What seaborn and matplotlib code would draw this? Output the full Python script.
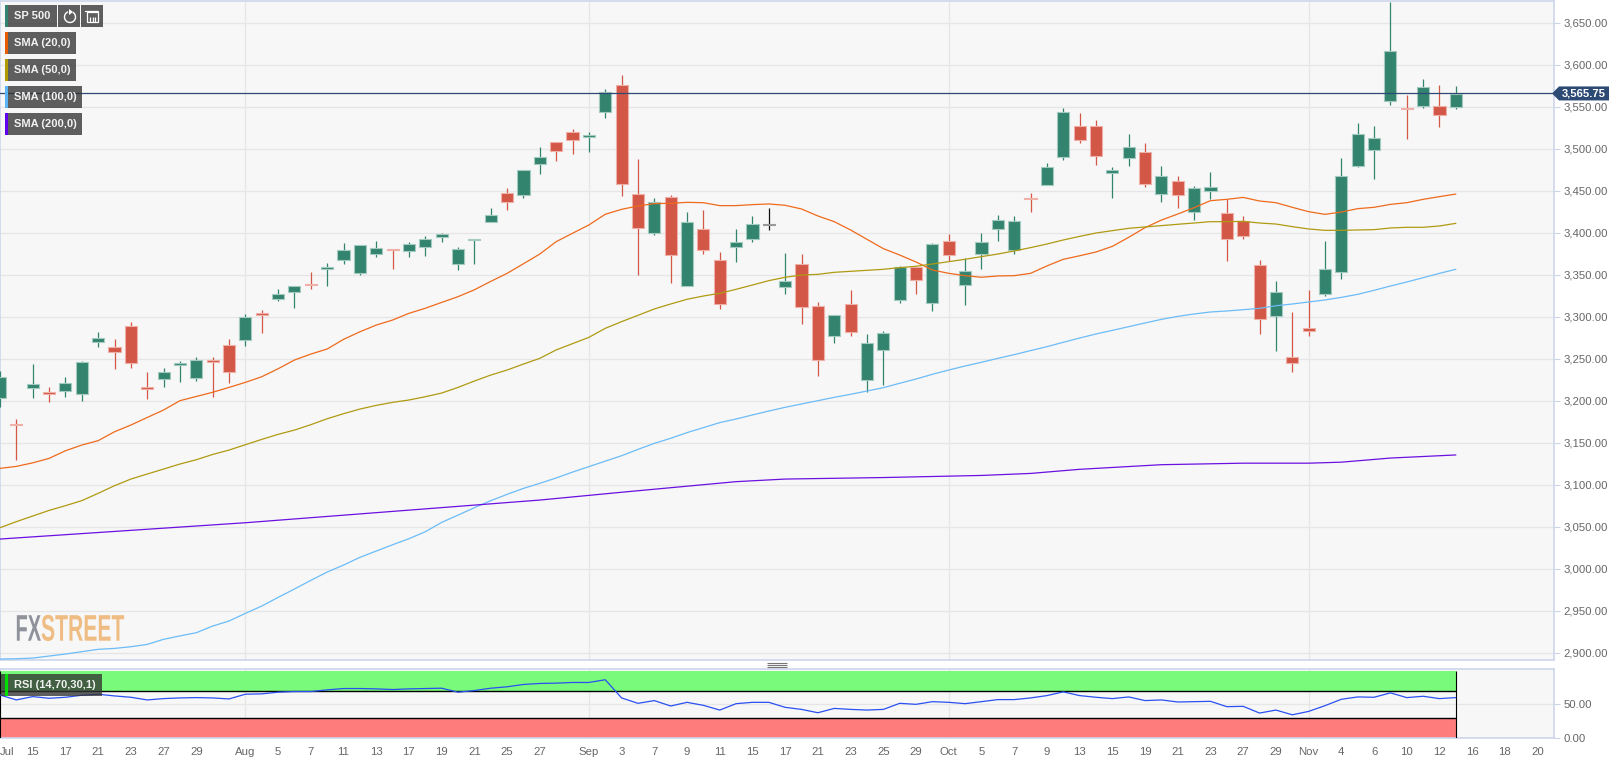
import numpy as np
import pandas as pd
import matplotlib
matplotlib.use("Agg")
import matplotlib.pyplot as plt
import seaborn as sns
from matplotlib.patches import Rectangle, Polygon, Arc
from matplotlib.patheffects import AbstractPathEffect
from matplotlib.transforms import Affine2D

WIDTH, HEIGHT = 1620, 770
LAST_PRICE = 3565.75
BLACK_CANDLE = 47

open_ = [3202.8, 3172.6, 3215.0, 3210.7, 3211.1, 3207.5, 3270.2, 3263.9, 3288.9, 3216.2,
         3225.4, 3242.4, 3227.4, 3248.8, 3266.2, 3272.2, 3304.4, 3321.4, 3329.8, 3338.9,
         3357.1, 3367.5, 3352.0, 3375.0, 3380.6, 3377.8, 3382.5, 3394.8, 3362.7, 3391.7,
         3412.3, 3447.6, 3444.4, 3481.4, 3508.0, 3520.3, 3513.5, 3544.1, 3575.8, 3445.7,
         3400.0, 3442.1, 3337.0, 3404.0, 3367.1, 3383.0, 3392.1, 3409.6, 3335.8, 3362.7,
         3313.1, 3276.6, 3315.1, 3224.3, 3260.0, 3320.3, 3359.2, 3316.7, 3389.7, 3337.7,
         3375.0, 3404.8, 3379.4, 3441.7, 3456.8, 3489.7, 3527.4, 3526.6, 3471.4, 3489.3,
         3495.7, 3445.7, 3461.1, 3424.6, 3449.6, 3423.8, 3414.3, 3361.9, 3301.2, 3251.6,
         3286.1, 3327.4, 3353.6, 3479.8, 3498.0, 3557.2, 3548.4, 3550.4, 3550.4, 3550.0]
high = [3235.7, 3178.5, 3243.2, 3215.8, 3228.5, 3246.8, 3282.1, 3273.0, 3293.3, 3234.5,
        3238.5, 3247.6, 3252.4, 3252.4, 3273.0, 3302.8, 3307.9, 3332.5, 3336.1, 3353.6,
        3363.5, 3387.3, 3384.9, 3389.7, 3380.6, 3388.5, 3395.6, 3400.0, 3382.5, 3392.5,
        3429.0, 3452.8, 3474.2, 3502.4, 3508.0, 3523.0, 3519.5, 3570.7, 3587.3, 3487.3,
        3440.9, 3444.5, 3424.2, 3426.6, 3376.6, 3404.0, 3419.5, 3429.0, 3375.4, 3374.2,
        3317.1, 3301.6, 3331.4, 3279.0, 3283.0, 3360.4, 3359.2, 3387.7, 3398.5, 3369.5,
        3399.6, 3420.7, 3419.5, 3446.9, 3483.4, 3548.0, 3542.0, 3533.7, 3477.8, 3517.1,
        3506.4, 3479.0, 3467.1, 3455.2, 3471.8, 3440.1, 3419.5, 3367.0, 3342.1, 3305.2,
        3331.8, 3389.7, 3488.5, 3530.6, 3526.6, 3674.2, 3564.3, 3582.6, 3575.8, 3574.6]
low = [3192.0, 3129.3, 3202.8, 3198.8, 3204.7, 3200.0, 3263.5, 3237.3, 3239.3, 3201.6,
       3216.6, 3222.6, 3223.8, 3204.7, 3221.4, 3265.0, 3280.9, 3319.0, 3309.9, 3332.5,
       3336.9, 3363.1, 3350.0, 3370.6, 3356.3, 3370.6, 3371.8, 3388.5, 3355.2, 3362.3,
       3412.3, 3426.6, 3441.7, 3469.5, 3485.8, 3494.1, 3495.7, 3537.0, 3444.1, 3350.0,
       3397.3, 3339.7, 3337.0, 3374.2, 3309.6, 3365.5, 3389.3, 3402.8, 3326.6, 3291.7,
       3229.0, 3268.3, 3277.4, 3210.0, 3218.3, 3316.7, 3327.4, 3307.2, 3366.3, 3314.3,
       3357.2, 3390.5, 3375.0, 3424.2, 3456.8, 3487.0, 3507.2, 3481.0, 3440.9, 3479.8,
       3454.8, 3436.1, 3429.8, 3415.5, 3440.5, 3366.7, 3392.1, 3279.8, 3259.5, 3234.5,
       3277.4, 3325.0, 3345.3, 3477.8, 3464.3, 3552.4, 3511.9, 3548.8, 3526.2, 3547.2]
close = [3228.1, 3171.0, 3219.8, 3208.3, 3220.6, 3245.6, 3274.2, 3257.5, 3245.2, 3214.3,
         3233.7, 3244.8, 3248.0, 3246.0, 3234.5, 3300.0, 3302.4, 3326.6, 3336.1, 3337.3,
         3359.1, 3379.8, 3384.9, 3382.1, 3379.8, 3386.1, 3392.1, 3398.0, 3380.2, 3392.5,
         3421.4, 3436.1, 3474.2, 3490.5, 3496.9, 3510.4, 3515.9, 3567.9, 3458.0, 3405.6,
         3436.1, 3373.4, 3412.7, 3379.0, 3315.5, 3389.3, 3410.8, 3410.9, 3342.1, 3312.0,
         3248.0, 3301.6, 3281.4, 3268.3, 3280.6, 3358.8, 3344.1, 3386.2, 3373.1, 3354.8,
         3388.5, 3414.7, 3414.3, 3439.7, 3478.6, 3543.3, 3510.2, 3491.3, 3474.6, 3502.4,
         3458.4, 3467.1, 3445.3, 3452.8, 3454.4, 3392.1, 3395.6, 3296.8, 3329.4, 3245.3,
         3282.6, 3357.2, 3467.9, 3517.9, 3512.3, 3616.3, 3546.8, 3573.8, 3540.5, 3565.5]

sma20 = [3119.4, 3121.8, 3126.0, 3131.3, 3140.4, 3147.2, 3152.4, 3163.0, 3171.0, 3180.0,
         3188.9, 3200.0, 3205.0, 3210.0, 3215.8, 3221.8, 3228.5, 3238.0, 3248.4, 3255.5,
         3261.5, 3273.0, 3282.0, 3290.0, 3296.0, 3304.0, 3310.0, 3317.0, 3323.8, 3332.0,
         3342.0, 3351.6, 3363.0, 3374.6, 3389.3, 3399.3, 3409.2, 3421.9, 3427.8, 3431.8,
         3434.6, 3435.0, 3436.1, 3435.7, 3432.2, 3432.2, 3433.4, 3434.2, 3432.6, 3428.2,
         3419.9, 3413.1, 3403.2, 3392.1, 3381.0, 3373.4, 3365.1, 3355.6, 3351.6, 3348.8,
         3346.9, 3348.5, 3348.8, 3351.6, 3360.4, 3368.3, 3372.5, 3377.0, 3383.7, 3394.5,
         3406.0, 3415.0, 3422.2, 3429.8, 3438.1, 3439.7, 3442.0, 3437.7, 3435.7, 3430.2,
         3425.0, 3421.8, 3424.6, 3428.6, 3430.2, 3433.7, 3435.7, 3439.7, 3442.9, 3446.0]
sma50 = [3048.8, 3056.0, 3062.7, 3069.4, 3075.0, 3081.0, 3089.7, 3098.8, 3106.7, 3112.7,
         3118.6, 3124.6, 3129.7, 3136.0, 3141.2, 3147.6, 3153.9, 3159.9, 3165.0, 3171.4,
         3178.5, 3184.5, 3190.0, 3194.4, 3198.0, 3200.8, 3204.7, 3209.1, 3215.8, 3223.4,
         3230.5, 3236.5, 3243.6, 3250.4, 3260.4, 3267.9, 3275.4, 3286.1, 3294.1, 3301.6,
         3309.2, 3315.1, 3320.7, 3324.6, 3327.8, 3332.6, 3337.7, 3342.9, 3346.9, 3349.6,
         3350.4, 3352.8, 3354.0, 3355.2, 3356.4, 3358.4, 3360.0, 3362.7, 3365.5, 3368.3,
         3371.5, 3374.6, 3378.2, 3382.2, 3386.5, 3391.3, 3395.6, 3399.6, 3402.4, 3405.2,
         3406.8, 3408.4, 3410.0, 3411.5, 3413.1, 3413.1, 3413.5, 3411.5, 3410.3, 3407.2,
         3404.4, 3402.8, 3402.8, 3403.2, 3403.6, 3405.6, 3406.4, 3406.4, 3408.0, 3411.1]
sma100 = [2892.4, 2892.8, 2893.6, 2896.0, 2898.4, 2901.2, 2904.0, 2905.1, 2907.1, 2909.9,
          2915.9, 2920.0, 2923.8, 2931.7, 2937.7, 2946.8, 2955.5, 2965.8, 2975.8, 2986.1,
          2996.0, 3004.3, 3013.5, 3021.0, 3028.5, 3035.7, 3044.0, 3055.1, 3063.8, 3072.6,
          3080.9, 3088.5, 3095.6, 3101.6, 3108.0, 3115.0, 3121.5, 3128.0, 3134.5, 3142.0,
          3149.2, 3155.2, 3162.0, 3167.9, 3173.9, 3178.2, 3183.0, 3187.7, 3192.1, 3196.1,
          3200.0, 3204.0, 3207.6, 3211.5, 3215.5, 3220.7, 3225.8, 3231.4, 3236.5, 3241.3,
          3245.7, 3250.4, 3254.8, 3259.6, 3264.3, 3269.5, 3274.6, 3279.4, 3283.7, 3288.1,
          3292.5, 3296.8, 3300.4, 3303.2, 3305.6, 3306.8, 3308.3, 3309.9, 3313.0, 3315.1,
          3317.5, 3319.9, 3323.0, 3326.6, 3331.4, 3336.5, 3341.3, 3346.4, 3351.6, 3356.4]
sma200_idx = [0, 15, 33, 38, 45, 48, 54, 60, 63, 66, 71, 76, 80, 82, 85, 89]
sma200 = [3035.3, 3054.7, 3081.7, 3091.0, 3103.6, 3106.7, 3108.5, 3111.0, 3113.4, 3118.3,
          3123.8, 3125.6, 3125.6, 3126.8, 3131.7, 3135.4]

rsi = [64.0, 56.6, 61.6, 59.1, 60.6, 63.6, 65.2, 62.6, 60.6, 56.6,
       58.6, 59.6, 60.1, 59.6, 58.1, 65.2, 65.7, 68.2, 69.2, 69.2,
       71.7, 73.7, 73.7, 73.2, 72.2, 73.2, 73.7, 74.2, 68.2, 70.7,
       74.2, 76.3, 79.8, 81.3, 81.8, 82.8, 82.8, 86.9, 59.6, 51.5,
       55.6, 47.5, 53.0, 48.5, 41.4, 51.0, 53.0, 53.0, 45.5, 42.4,
       37.4, 43.9, 42.4, 41.4, 42.4, 51.5, 50.0, 54.0, 53.0, 51.0,
       54.0, 57.1, 57.1, 59.6, 63.1, 68.7, 63.1, 60.6, 58.6, 61.1,
       55.6, 56.6, 53.5, 54.0, 54.5, 46.5, 47.0, 36.9, 41.4, 34.3,
       39.4, 48.0, 57.6, 61.1, 60.6, 67.2, 60.1, 62.1, 58.6, 60.1]

price_ticks = [2900, 2950, 3000, 3050, 3100, 3150, 3200, 3250, 3300, 3350, 3400, 3450,
               3500, 3550, 3600, 3650]
month_idx = [15, 36, 58, 80]
tick_idx = [0, 2, 4, 6, 8, 10, 12, 15, 17, 19, 21, 23, 25, 27, 29, 31, 33, 36, 38, 40, 42,
            44, 46, 48, 50, 52, 54, 56, 58, 60, 62, 64, 66, 68, 70, 72, 74, 76, 78, 80, 82,
            84, 86, 88, 90, 92, 94]
tick_labels = ["Jul", "15", "17", "21", "23", "27", "29", "Aug", "5", "7", "11", "13", "17",
               "19", "21", "25", "27", "Sep", "3", "7", "9", "11", "15", "17", "21", "23",
               "25", "29", "Oct", "5", "7", "9", "13", "15", "19", "21", "23", "27", "29",
               "Nov", "4", "6", "10", "12", "16", "18", "20"]

GREEN = "#33846f"
RED = "#d35746"
GRID = "#e6e6e6"
BORDER = "#ccd6eb"
PANEL = "#f7f7f7"
NAVY = "#2d4a75"
TICK_TEXT = "#666666"


class SqueezeX(AbstractPathEffect):
    # the logo lettering is much narrower than any installed font
    def __init__(self, x0, factor):
        super().__init__()
        self.x0 = x0
        self.factor = factor

    def draw_path(self, renderer, gc, tpath, affine, rgbFace=None):
        squeeze = Affine2D().translate(-self.x0, 0).scale(self.factor, 1).translate(self.x0, 0)
        renderer.draw_path(gc, tpath, affine + squeeze, rgbFace)


def px_axes(fig, left, top, right, bottom):
    return fig.add_axes([left / WIDTH, 1 - bottom / HEIGHT, (right - left) / WIDTH, (bottom - top) / HEIGHT])


def style_axes(ax):
    ax.set_facecolor(PANEL)
    ax.set_xlim(0, 95)
    ax.set_xlabel("")
    ax.set_ylabel("")
    ax.grid(False)
    ax.grid(axis="y", color=GRID, linewidth=0.9)
    ax.yaxis.tick_right()
    ax.tick_params(axis="y", length=4, width=0.8, color=BORDER, labelsize=8.2,
                   labelcolor=TICK_TEXT, pad=3)
    for spine in ax.spines.values():
        spine.set_color(BORDER)
        spine.set_linewidth(1.2)
    for i in month_idx:
        ax.axvline(i, color=GRID, linewidth=0.9, zorder=1)


def draw_candles(ax):
    df = pd.DataFrame({"open": open_, "high": high, "low": low, "close": close})
    df["i"] = df.index
    for row in df.itertuples():
        up = row.close >= row.open
        color = GREEN if up else RED
        edge = "#a3cbc0" if up else "#efb0a8"
        if row.i == BLACK_CANDLE:
            color, edge = "#111111", "#999999"
        ax.vlines(row.i, row.low, row.high, color=color, linewidth=0.9, zorder=3)
        ax.bar(row.i, abs(row.close - row.open), bottom=min(row.open, row.close), width=0.74,
               color=color, edgecolor=edge, linewidth=0.8, zorder=4)


def button(ov, x0, x1, y0, y1, label, stripe=None, text_x=None):
    ov.add_patch(Rectangle((x0, y0), x1 - x0, y1 - y0, facecolor="#333333", alpha=0.78, linewidth=0))
    if stripe:
        ov.add_patch(Rectangle((x0, y0), 3, y1 - y0, facecolor=stripe, linewidth=0))
    if label:
        ov.text(x0 + 9 if text_x is None else text_x, (y0 + y1) / 2, label, color="white", fontsize=8.0,
                fontweight="bold", va="center", ha="left", alpha=0.92)


def main():
    sns.set_theme(style="whitegrid")
    plt.rcParams["font.family"] = ["Liberation Sans", "DejaVu Sans"]

    fig = plt.figure(figsize=(WIDTH / 100, HEIGHT / 100), dpi=100, facecolor="white")

    # price panel
    ax = px_axes(fig, 0, 1, 1554, 660)
    idx = np.arange(len(close))
    draw_candles(ax)
    sns.lineplot(x=idx, y=sma20, color="#ee6a1c", linewidth=0.9, estimator=None, ax=ax, zorder=5)
    sns.lineplot(x=idx, y=sma50, color="#b09a12", linewidth=0.9, estimator=None, ax=ax, zorder=5)
    sns.lineplot(x=idx, y=sma100, color="#6cbcf7", linewidth=0.9, estimator=None, ax=ax, zorder=5)
    sns.lineplot(x=sma200_idx, y=sma200, color="#6a10e0", linewidth=0.9, estimator=None, ax=ax, zorder=5)
    ax.axhline(LAST_PRICE, color=NAVY, linewidth=0.9, zorder=6)
    style_axes(ax)
    ax.set_ylim(2891.3, 3675.8)
    ax.set_yticks(price_ticks)
    ax.set_yticklabels([f"{v:,.2f}" for v in price_ticks])
    ax.set_xticks([])

    # rsi panel
    ax2 = px_axes(fig, 0, 669, 1554, 738)
    ax2.fill_between([0, idx[-1]], 70, 100, color="#73fb73", alpha=0.95, linewidth=0, zorder=2)
    ax2.fill_between([0, idx[-1]], 0, 30, color="#ff7575", alpha=0.95, linewidth=0, zorder=2)
    ax2.hlines([70, 30], 0, idx[-1], color="black", linewidth=1.0, zorder=3)
    ax2.vlines([0, idx[-1]], 0, 100, color="black", linewidth=0.8, zorder=3)
    sns.lineplot(x=idx, y=rsi, color="#2a50f0", linewidth=0.9, estimator=None, ax=ax2, zorder=4)
    style_axes(ax2)
    ax2.set_ylim(-0.5, 103)
    ax2.set_yticks([0, 50])
    ax2.set_yticklabels(["0.00", "50.00"])
    ax2.set_xticks(tick_idx)
    ax2.set_xticklabels(tick_labels)
    ax2.tick_params(axis="x", length=3, width=0.8, color=BORDER, labelsize=8.2,
                    labelcolor=TICK_TEXT, pad=3.5)
    ax2.get_xticklabels()[0].set_ha("left")

    # overlay in pixel coordinates for the chart controls
    ov = fig.add_axes([0, 0, 1, 1], zorder=10)
    ov.set_xlim(0, WIDTH)
    ov.set_ylim(HEIGHT, 0)
    ov.axis("off")
    ov.patch.set_alpha(0)

    button(ov, 5, 57, 5, 27, "SP 500", stripe=GREEN, text_x=14)
    button(ov, 58, 80, 5, 27, "")
    button(ov, 81, 103, 5, 27, "")
    ov.add_patch(Arc((70, 17), 11, 11, theta1=-60, theta2=250, color="white", linewidth=1))
    ov.add_patch(Polygon([[69, 9], [73, 12], [69, 15]], facecolor="white", linewidth=0))
    ov.add_patch(Rectangle((87, 12), 11, 10, fill=False, edgecolor="white", linewidth=0.9))
    ov.vlines([90, 92.5, 95], 17, 22, color="white", linewidth=0.9)
    ov.plot([85, 98], [11, 11], color="white", linewidth=0.9)

    button(ov, 5, 76, 32, 54, "SMA (20,0)", stripe="#e85d04", text_x=14)
    button(ov, 5, 76, 59, 81, "SMA (50,0)", stripe="#b09a00", text_x=14)
    button(ov, 5, 82, 86, 108, "SMA (100,0)", stripe="#5ab4f5", text_x=14)
    button(ov, 5, 82, 113, 135, "SMA (200,0)", stripe="#6000f0", text_x=14)
    button(ov, 1, 102, 674, 696, "")
    ov.add_patch(Rectangle((5, 674), 3, 22, facecolor="#00e000", linewidth=0))
    ov.text(14, 685, "RSI (14,70,30,1)", color="white", fontsize=8.0, fontweight="bold", va="center", alpha=0.92)

    # resize grip between panels
    ov.hlines([663, 665, 667], 767, 787, color="#777777", linewidth=0.8)

    # last price tag
    tag_y = HEIGHT - ax.transData.transform((0, LAST_PRICE))[1]
    ov.add_patch(Polygon([[1552, tag_y], [1559, tag_y - 7], [1609, tag_y - 7], [1609, tag_y + 7],
                          [1559, tag_y + 7]], facecolor=NAVY, linewidth=0))
    ov.text(1562, tag_y, f"{LAST_PRICE:,.2f}", color="white", fontsize=8.1, fontweight="bold", va="center")

    # watermark
    logo_fx = ov.text(15.5, 640.7, "FX", color="#8f929b", fontsize=26.7, fontweight="bold", va="baseline")
    logo_fx.set_path_effects([SqueezeX(15.5, 0.54)])
    logo_st = ov.text(41, 640.7, "STREET", color="#efbd83", fontsize=26.7, fontweight="bold", va="baseline")
    logo_st.set_path_effects([SqueezeX(41, 0.57)])

    fig.savefig("out.png", dpi=100, facecolor="white")
    plt.close(fig)


if __name__ == "__main__":
    main()
